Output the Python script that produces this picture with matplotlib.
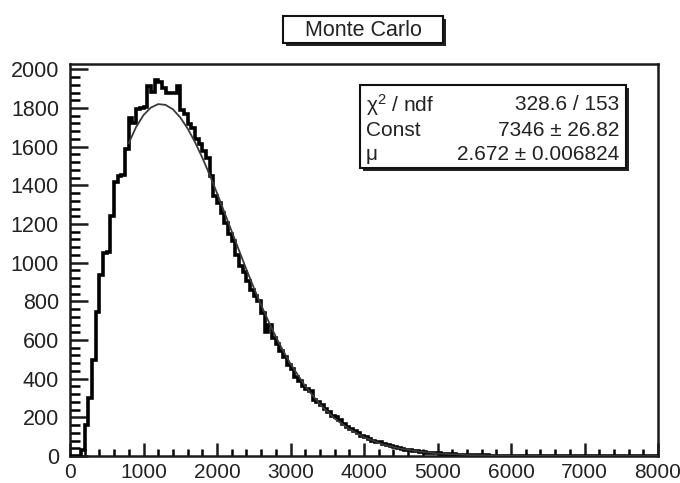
import numpy as np
import matplotlib
matplotlib.use("Agg")
import matplotlib.pyplot as plt
from matplotlib.patches import Rectangle

plt.rcParams['font.family'] = ['Liberation Sans', 'DejaVu Sans']
plt.rcParams['mathtext.fontset'] = 'custom'
plt.rcParams['mathtext.rm'] = 'Liberation Sans'
plt.rcParams['mathtext.it'] = 'Liberation Sans'

# ---- data ----
bin_width = 50
x_min, x_max = 0, 8000
counts = [
    0, 0, 0, 30, 160, 300, 495, 745, 935, 1050,
    1055, 1240, 1415, 1450, 1455, 1590, 1750, 1720, 1795, 1800,
    1805, 1915, 1885, 1945, 1935, 1905, 1880, 1875, 1880, 1915,
    1790, 1770, 1715, 1695, 1640, 1615, 1575, 1540, 1450, 1345,
    1310, 1255, 1205, 1150, 1110, 1040, 985, 950, 905, 860,
    825, 800, 740, 640, 680, 610, 580, 545, 510, 470,
    450, 410, 390, 360, 345, 335, 290, 280, 265, 245,
    230, 205, 200, 185, 165, 150, 140, 130, 120, 105,
    98, 90, 80, 74, 70, 60, 55, 50, 46, 42,
    36, 33, 30, 27, 25, 22, 20, 18, 16, 15,
    13, 12, 11, 10, 8, 7, 6, 6, 5, 4,
    4, 3, 3, 3, 2, 2, 1, 2, 1, 1,
    1, 0, 1, 0, 0, 0, 0, 0, 0, 0,
    0, 0, 0, 0, 0, 0, 0, 0, 0, 0,
    0, 0, 0, 0, 0, 0, 0, 0, 0, 0,
    0, 0, 0, 0, 0, 0, 0, 0, 0, 0,
]
fit_x = [800, 900, 1000, 1100, 1200, 1300, 1400, 1500, 1600, 1700, 1800, 1900,
         2000, 2100, 2200, 2300, 2400, 2500, 2600, 2700, 2800, 2900, 3000, 3200,
         3400, 3600, 3800, 4000, 4250, 4500, 4750, 5000, 5500, 6000, 6500, 7000, 8000]
fit_y = [1619, 1702, 1763, 1802, 1820, 1816, 1793, 1751, 1694, 1624, 1543, 1454,
         1360, 1261, 1162, 1063, 965, 871, 781, 697, 617, 544, 477, 361,
         267, 194, 139, 97, 61, 38, 23, 13, 4, 1.3, 0.4, 0.1, 0]

title = "Monte Carlo"
stat_names = ["\u03c7$^{2}$ / ndf", "Const", "\u03bc"]
stat_vals = ["328.6 / 153", "7346 \u00b1 26.82", "2.672 \u00b1 0.006824"]

# ---- figure ----
W, H = 680, 483
fig = plt.figure(figsize=(W / 100, H / 100), dpi=100)
fig.patch.set_facecolor('white')

def fx(px):
    return px / W

def fy(py):
    return 1 - py / H

left, right, top, bottom = 70, 658, 63.5, 456
ax = fig.add_axes([fx(left), fy(bottom), fx(right) - fx(left), fy(top) - fy(bottom)])

edges = np.arange(x_min, x_max + bin_width, bin_width)
ax.stairs(counts, edges, color='black', lw=2.6, baseline=0, zorder=3)
ax.plot(fit_x, fit_y, color='#3a3a3a', lw=1.3, zorder=4)

ax.set_xlim(x_min, x_max)
ax.set_ylim(0, 2030)
ax.set_xticks(np.arange(0, 8001, 1000))
ax.set_xticks(np.arange(0, 8001, 200), minor=True)
ax.set_yticks(np.arange(0, 2001, 200))
ax.set_yticks(np.arange(0, 2001, 40), minor=True)

for s in ax.spines.values():
    s.set_linewidth(1.8)
    s.set_color('#1a1a1a')

ax.tick_params(axis='x', which='major', direction='in', length=9.5, width=1.8,
               labelsize=15, pad=5, colors='#1a1a1a')
ax.tick_params(axis='x', which='minor', direction='in', length=5, width=1.8)
ax.tick_params(axis='y', which='major', direction='in', length=13, width=1.8,
               labelsize=15.5, pad=8, colors='#1a1a1a')
ax.tick_params(axis='y', which='minor', direction='in', length=7, width=1.8)
for lab in ax.get_xticklabels() + ax.get_yticklabels():
    lab.set_color('#222222')

# ---- boxes with shadow ----
def shadow_box(x0, y0, x1, y1):
    sh = 3
    fig.patches.append(Rectangle((fx(x0 + sh), fy(y1 + sh)), fx(x1) - fx(x0), fy(y0) - fy(y1),
                                 transform=fig.transFigure, facecolor='#222222',
                                 edgecolor='none', zorder=5))
    fig.patches.append(Rectangle((fx(x0), fy(y1)), fx(x1) - fx(x0), fy(y0) - fy(y1),
                                 transform=fig.transFigure, facecolor='white',
                                 edgecolor='#111111', lw=1.5, zorder=6))

shadow_box(283, 16, 443, 43)
fig.text(fx(363), fy(30), title, ha='center', va='center', fontsize=15.5,
         color='#222222', zorder=7)

shadow_box(360, 85, 626, 168)
rows_y = [105, 130, 154]
for name, val, yy in zip(stat_names, stat_vals, rows_y):
    fig.text(fx(366), fy(yy), name, ha='left', va='center', fontsize=15,
             color='#222222', zorder=7)
    fig.text(fx(619), fy(yy), val, ha='right', va='center', fontsize=15,
             color='#222222', zorder=7)

fig.savefig('out.png', dpi=100)
